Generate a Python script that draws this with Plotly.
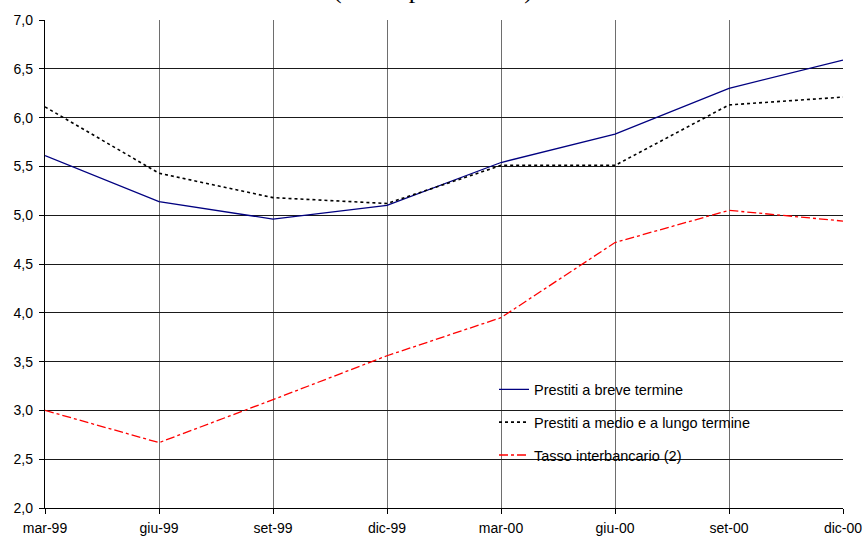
import plotly.graph_objects as go

# Quarterly periods and interest-rate series (percent values)
periodi = ["mar-99", "giu-99", "set-99", "dic-99", "mar-00", "giu-00", "set-00", "dic-00"]
breve_termine = [5.61, 5.14, 4.96, 5.10, 5.54, 5.83, 6.30, 6.59]
medio_lungo_termine = [6.11, 5.43, 5.18, 5.12, 5.51, 5.51, 6.13, 6.21]
tasso_interbancario = [3.00, 2.67, 3.11, 3.56, 3.95, 4.72, 5.05, 4.94]

W, H = 865, 536
L, R, T, B = 45, 22, 19.5, 28.3

fig = go.Figure()
fig.add_trace(go.Scatter(
    x=periodi, y=breve_termine, mode="lines", name="Prestiti a breve termine",
    line=dict(color="#000080", width=1.3), legendgroup="a"))
fig.add_trace(go.Scatter(
    x=periodi, y=medio_lungo_termine, mode="lines", name="Prestiti a medio e a lungo termine",
    line=dict(color="#000000", width=1.6, dash="dot"), legendgroup="b"))
fig.add_trace(go.Scatter(
    x=periodi, y=tasso_interbancario, mode="lines", name="Tasso interbancario (2)",
    line=dict(color="#ff0000", width=1.3, dash="dashdot"), legendgroup="c"))

pw = W - L - R
ph = H - T - B
def px_x(v):
    return (v - L) / pw
def px_y(v):
    return (H - B - v) / ph

# white panel behind the legend, hiding gridlines there
fig.add_shape(type="rect", xref="paper", yref="paper",
              x0=px_x(436), x1=px_x(805), y0=px_y(472), y1=px_y(372),
              fillcolor="white", line=dict(width=0), layer="between")

fig.add_annotation(text="(valori percentuali)", xref="paper", yref="paper",
                   x=px_x(432.5), y=1, yanchor="bottom", yshift=14, showarrow=False,
                   font=dict(family="Liberation Serif", size=26, color="#000"))

fig.update_layout(
    template="none",
    width=W, height=H,
    margin=dict(l=L, r=R, t=T, b=B, pad=0),
    paper_bgcolor="white", plot_bgcolor="white",
    separators=",.",
    font=dict(family="Liberation Sans, Arial", size=14, color="#000"),
    showlegend=True,
    legend=dict(x=px_x(494), y=px_y(373), xanchor="left", yanchor="top",
                bgcolor="rgba(0,0,0,0)", borderwidth=0,
                font=dict(family="Liberation Sans, Arial", size=14.5, color="#000"),
                tracegroupgap=11, itemwidth=30),
)
fig.update_xaxes(
    type="category", range=[0, 7], showgrid=True, gridcolor="#6e6e6e", gridwidth=1,
    showline=True, linecolor="#000", linewidth=1.3, mirror=False, automargin=False,
    ticks="outside", ticklen=5, tickcolor="#000", tickfont=dict(size=14),
    ticklabelstandoff=2,
    zeroline=False, fixedrange=True)
fig.update_yaxes(
    range=[2, 7], dtick=0.5, tickformat=".1f", showgrid=True, gridcolor="#1a1a1a", gridwidth=1,
    showline=True, linecolor="#000", linewidth=1.3, automargin=False,
    ticks="outside", ticklen=5, tickcolor="#000", tickfont=dict(size=14),
    ticklabelstandoff=3,
    zeroline=False, fixedrange=True)

fig.write_html("out.html")
